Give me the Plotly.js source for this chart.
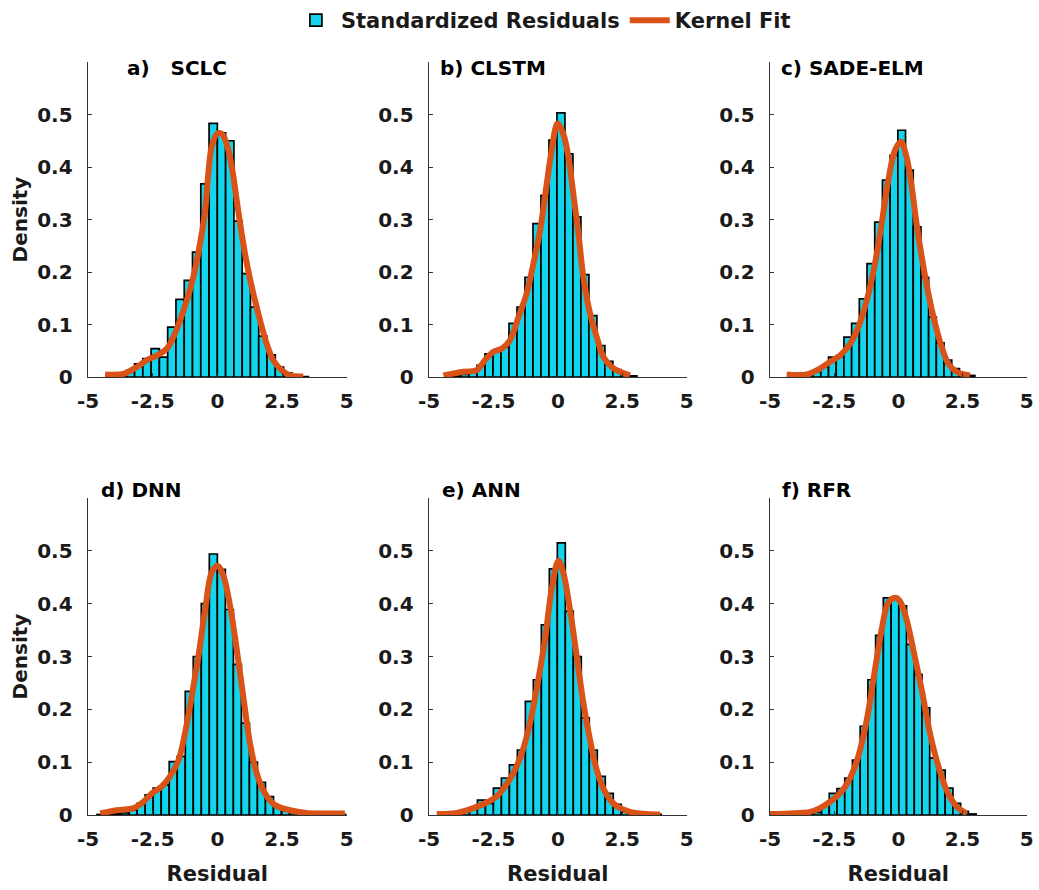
<!DOCTYPE html>
<html>
<head>
<meta charset="utf-8">
<script src="https://cdn.plot.ly/plotly-3.0.1.min.js"></script>
<style>html,body{margin:0;padding:0;background:#fff;}#chart{width:1039px;height:890px;}</style>
</head>
<body>
<div id="chart"></div>
<script>
// ---------- tick labels & titles ----------
const xTickVals = [-5, -2.5, 0, 2.5, 5];
const xTickText = ['-5', '-2.5', '0', '2.5', '5'];
const yTickVals = [0, 0.1, 0.2, 0.3, 0.4, 0.5];
const yTickText = ['0', '0.1', '0.2', '0.3', '0.4', '0.5'];
const panelTitles = ['a)\u00a0\u00a0\u00a0SCLC', 'b) CLSTM', 'c) SADE-ELM', 'd) DNN', 'e) ANN', 'f) RFR'];
const seriesNames = ['Standardized Residuals', 'Kernel Fit'];

// ---------- a) SCLC ----------
const binA = [-4.00,-3.68,-3.36,-3.04,-2.72,-2.40,-2.08,-1.76,-1.44,-1.12,-0.80,-0.48,-0.16,0.16,0.48,0.80,1.12,1.44,1.76,2.08,2.40,2.72,3.04,3.36];
const densA = [0.002,0.005,0.012,0.025,0.035,0.054,0.038,0.095,0.148,0.184,0.238,0.368,0.483,0.465,0.450,0.297,0.197,0.133,0.078,0.042,0.019,0.008,0.003,0.001];
const widthA = 0.32;
const kernXA = [-4.34,-3.63,-3.11,-2.73,-2.34,-1.95,-1.70,-1.44,-1.18,-0.93,-0.67,-0.47,-0.35,-0.22,-0.02,0.17,0.36,0.56,0.75,0.94,1.14,1.39,1.65,1.91,2.16,2.49,2.81,3.32];
const kernYA = [0.005,0.006,0.019,0.032,0.041,0.054,0.076,0.108,0.146,0.190,0.254,0.317,0.387,0.438,0.463,0.463,0.444,0.400,0.336,0.273,0.216,0.159,0.108,0.063,0.032,0.013,0.003,0.001];

// ---------- b) CLSTM ----------
const binB = [-4.22,-3.91,-3.60,-3.29,-2.98,-2.67,-2.36,-2.05,-1.74,-1.43,-1.12,-0.81,-0.50,-0.19,0.12,0.43,0.74,1.05,1.36,1.67,1.98,2.29,2.60,2.91];
const densB = [0.002,0.003,0.005,0.010,0.022,0.044,0.051,0.057,0.102,0.133,0.190,0.292,0.346,0.451,0.503,0.425,0.305,0.195,0.117,0.060,0.030,0.014,0.006,0.002];
const widthB = 0.31;
const kernXB = [-4.44,-3.67,-3.15,-2.83,-2.50,-2.18,-1.86,-1.53,-1.21,-0.95,-0.69,-0.43,-0.24,-0.01,0.21,0.41,0.60,0.80,0.99,1.25,1.51,1.77,2.09,2.41,2.80];
const kernYB = [0.003,0.010,0.013,0.032,0.048,0.054,0.070,0.114,0.159,0.216,0.279,0.368,0.432,0.483,0.463,0.419,0.349,0.273,0.190,0.121,0.076,0.038,0.019,0.010,0.003];

// ---------- c) SADE-ELM ----------
const binC = [-4.07,-3.77,-3.47,-3.17,-2.87,-2.57,-2.27,-1.97,-1.67,-1.37,-1.07,-0.77,-0.47,-0.17,0.13,0.43,0.73,1.03,1.33,1.63,1.93,2.23,2.53,2.83];
const densC = [0.002,0.003,0.005,0.010,0.019,0.038,0.041,0.076,0.102,0.149,0.216,0.295,0.375,0.422,0.470,0.394,0.286,0.190,0.114,0.065,0.032,0.016,0.006,0.003];
const widthC = 0.30;
const kernXC = [-4.35,-3.57,-3.05,-2.66,-2.27,-1.88,-1.56,-1.23,-0.91,-0.65,-0.39,-0.13,0.10,0.32,0.52,0.71,0.91,1.17,1.43,1.69,1.95,2.27,2.79];
const kernYC = [0.005,0.005,0.016,0.029,0.041,0.063,0.095,0.146,0.216,0.292,0.375,0.432,0.448,0.419,0.362,0.292,0.229,0.159,0.102,0.057,0.025,0.010,0.003];

// ---------- d) DNN ----------
const binD = [-4.495,-4.185,-3.875,-3.565,-3.255,-2.945,-2.635,-2.325,-2.015,-1.705,-1.395,-1.085,-0.775,-0.465,-0.155,0.155,0.465,0.775,1.085,1.395,1.705,2.015,2.325,2.635,2.945,3.255,3.565,3.875,4.185,4.495,4.805];
const densD = [0.001,0.002,0.003,0.004,0.009,0.022,0.038,0.051,0.057,0.101,0.111,0.234,0.300,0.400,0.494,0.465,0.389,0.285,0.174,0.100,0.062,0.035,0.016,0.008,0.004,0.002,0.001,0.001,0.001,0.001,0.001];
const widthD = 0.31;
const kernXD = [-4.53,-3.89,-3.24,-2.86,-2.53,-2.15,-1.83,-1.50,-1.25,-0.99,-0.73,-0.47,-0.22,0.00,0.23,0.49,0.75,1.00,1.26,1.52,1.84,2.23,2.81,3.45,4.09,4.93];
const kernYD = [0.003,0.009,0.013,0.025,0.041,0.054,0.073,0.104,0.155,0.225,0.301,0.389,0.459,0.472,0.453,0.396,0.313,0.225,0.136,0.079,0.041,0.019,0.009,0.004,0.003,0.003];

// ---------- e) ANN ----------
const binE = [-4.205,-3.895,-3.585,-3.275,-2.965,-2.655,-2.345,-2.035,-1.725,-1.415,-1.105,-0.795,-0.485,-0.175,0.135,0.445,0.755,1.065,1.375,1.685,1.995,2.305,2.615,2.925,3.235,3.545,3.855];
const densE = [0.002,0.003,0.006,0.013,0.028,0.022,0.051,0.070,0.095,0.123,0.215,0.256,0.360,0.466,0.515,0.386,0.300,0.184,0.123,0.073,0.041,0.020,0.008,0.004,0.002,0.001,0.001];
const widthE = 0.31;
const kernXE = [-4.70,-3.92,-3.28,-2.70,-2.37,-2.05,-1.73,-1.40,-1.08,-0.76,-0.50,-0.24,0.02,0.21,0.47,0.73,0.99,1.25,1.51,1.83,2.22,2.80,3.45,3.97];
const kernYE = [0.002,0.004,0.013,0.025,0.035,0.054,0.079,0.117,0.174,0.256,0.332,0.427,0.481,0.459,0.389,0.301,0.212,0.142,0.085,0.044,0.019,0.006,0.002,0.001];

// ---------- f) RFR ----------
const binF = [-3.443,-3.142,-2.841,-2.540,-2.239,-1.938,-1.637,-1.336,-1.035,-0.734,-0.433,-0.132,0.169,0.470,0.771,1.072,1.373,1.674,1.975,2.276,2.577,2.878];
const densF = [0.002,0.005,0.018,0.041,0.050,0.070,0.104,0.168,0.256,0.340,0.411,0.411,0.396,0.323,0.266,0.203,0.108,0.085,0.051,0.022,0.007,0.002];
const widthF = 0.301;
const kernXF = [-5.00,-4.22,-3.44,-3.05,-2.66,-2.27,-1.88,-1.56,-1.23,-0.91,-0.65,-0.39,-0.13,0.06,0.32,0.58,0.91,1.23,1.56,1.88,2.27,2.66];
const kernYF = [0.002,0.003,0.006,0.013,0.025,0.041,0.070,0.111,0.180,0.275,0.351,0.402,0.411,0.405,0.370,0.313,0.237,0.155,0.092,0.047,0.016,0.003];

// ---------- assemble ----------
const panels = [
  {bins: binA, dens: densA, w: widthA, kx: kernXA, ky: kernYA},
  {bins: binB, dens: densB, w: widthB, kx: kernXB, ky: kernYB},
  {bins: binC, dens: densC, w: widthC, kx: kernXC, ky: kernYC},
  {bins: binD, dens: densD, w: widthD, kx: kernXD, ky: kernYD},
  {bins: binE, dens: densE, w: widthE, kx: kernXE, ky: kernYE},
  {bins: binF, dens: densF, w: widthF, kx: kernXF, ky: kernYF}
];

const W = 1039, H = 890;
const FONT = 'DejaVu Sans, Arial, sans-serif';
const INK = '#1a1a1a';
const BAR_COLOR = '#12D4EA';
const KERNEL_COLOR = '#D95319';

// pixel boxes of each axes: [left, right] and [bottom, top]
const colPx = [[88, 346.7], [429, 686.7], [770, 1026.7]];
const rowPx = [[377, 62], [815, 498]];
const titlePos = [[125, 68], [438, 68], [779, 68], [99, 490], [440, 490], [780, 490]];

const traces = [];
const layout = {
  width: W, height: H,
  margin: {l: 0, r: 0, t: 0, b: 0},
  paper_bgcolor: '#fff', plot_bgcolor: '#fff',
  showlegend: true,
  bargap: 0,
  legend: {
    orientation: 'h', x: 0.523, xanchor: 'center', y: 1.0, yanchor: 'top',
    font: {family: FONT, size: 21, weight: 'bold', color: INK},
    bgcolor: 'rgba(0,0,0,0)', itemwidth: 40, tracegroupgap: 0
  },
  annotations: [],
  font: {family: FONT, color: INK}
};

panels.forEach((p, i) => {
  const n = i + 1;
  const xa = 'x' + (n === 1 ? '' : n);
  const ya = 'y' + (n === 1 ? '' : n);
  const col = i % 3, row = Math.floor(i / 3);
  traces.push({
    type: 'bar', x: p.bins, y: p.dens, width: p.w,
    xaxis: xa, yaxis: ya,
    name: seriesNames[0], legendgroup: 'bars', showlegend: i === 0,
    marker: {color: BAR_COLOR, line: {color: '#000', width: 1.7}},
    hoverinfo: 'x+y'
  });
  traces.push({
    type: 'scatter', mode: 'lines', x: p.kx, y: p.ky,
    xaxis: xa, yaxis: ya,
    name: seriesNames[1], legendgroup: 'kern', showlegend: i === 0,
    line: {color: KERNEL_COLOR, width: 6, shape: 'spline', smoothing: 1}
  });
  const xKey = 'xaxis' + (n === 1 ? '' : n);
  const yKey = 'yaxis' + (n === 1 ? '' : n);
  layout[xKey] = {
    domain: [colPx[col][0] / W, colPx[col][1] / W],
    anchor: ya, range: [-5, 5],
    tickmode: 'array', tickvals: xTickVals, ticktext: xTickText,
    ticks: 'inside', ticklen: 4, tickcolor: '#333', tickwidth: 1,
    showline: true, linecolor: '#333', linewidth: 1.4, mirror: false,
    showgrid: false, zeroline: false, fixedrange: true,
    tickfont: {family: FONT, size: 20, weight: 'bold', color: INK},
    ticklabelstandoff: 6,
    title: row === 1 ? {text: 'Residual', font: {family: FONT, size: 21, weight: 'bold', color: INK}, standoff: 16} : {text: ''}
  };
  layout[yKey] = {
    domain: [1 - rowPx[row][0] / H, 1 - rowPx[row][1] / H],
    anchor: xa, range: [0, 0.6],
    tickmode: 'array', tickvals: yTickVals, ticktext: yTickText,
    ticks: 'inside', ticklen: 4, tickcolor: '#333', tickwidth: 1,
    showline: true, linecolor: '#333', linewidth: 1.4, mirror: false,
    showgrid: false, zeroline: false, fixedrange: true,
    tickfont: {family: FONT, size: 20, weight: 'bold', color: INK},
    ticklabelstandoff: 10,
    title: col === 0 ? {text: 'Density', font: {family: FONT, size: 20, weight: 'bold', color: INK}, standoff: 4} : {text: ''}
  };
  layout.annotations.push({
    xref: 'paper', yref: 'paper',
    x: titlePos[i][0] / W, y: 1 - titlePos[i][1] / H,
    xanchor: 'left', yanchor: 'middle', showarrow: false,
    text: panelTitles[i],
    font: {family: FONT, size: 20, weight: 'bold', color: '#000'}
  });
});

Plotly.newPlot('chart', traces, layout, {displayModeBar: false, staticPlot: true});
</script>
</body>
</html>
